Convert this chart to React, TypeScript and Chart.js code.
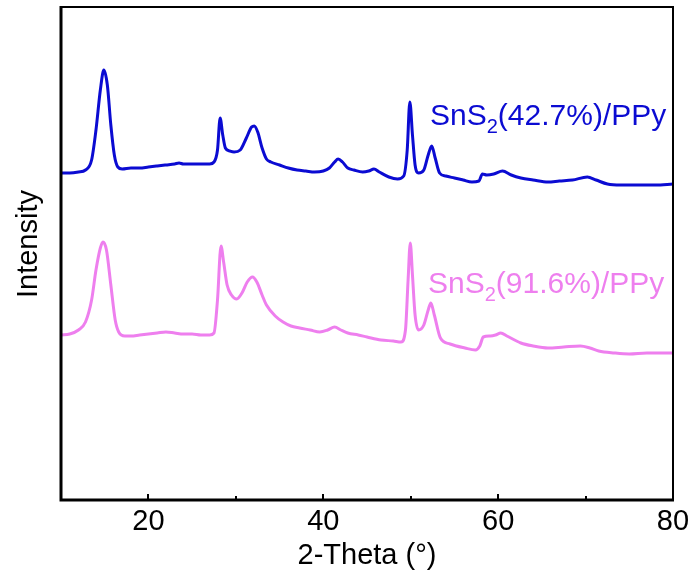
import React, { useEffect, useRef } from "react";
import { Chart, registerables } from "chart.js";

Chart.register(...registerables);

// 2-Theta positions and intensities (arbitrary units, stacked offsets included)
const blueTheta = [10, 11, 12, 12.8, 13.5, 14.0, 14.5, 14.9, 15.3, 15.7, 16.1, 16.5, 17, 18, 19, 20, 21, 22, 23, 23.5, 24, 25, 26, 27, 27.5, 27.9, 28.2, 28.5, 28.8, 29.3, 29.8, 30.5, 31.2, 31.8, 32.1, 32.5, 33, 33.5, 34, 35, 36, 37, 38, 39, 40, 40.7, 41.3, 41.7, 42.2, 42.8, 43.5, 44.5, 45.2, 45.8, 46.4, 47.5, 48.5, 49.2, 49.6, 49.9, 50.2, 50.5, 50.9, 51.5, 52.0, 52.4, 52.8, 53.3, 54, 55, 56, 57, 57.8, 58.2, 58.7, 59.5, 60.5, 61.5, 62.6, 64, 65.7, 67, 68.5, 70.2, 71.2, 72.5, 74, 76, 78, 80];
const blueIntensity = [327, 327, 328, 330, 340, 370, 410, 430, 415, 375, 345, 333, 331, 332, 332, 333, 334, 335, 336, 337, 336, 336, 336, 336, 338, 350, 382, 365, 352, 349, 348, 350, 362, 373, 374, 368, 352, 341, 338, 335, 332, 330, 329, 328, 329, 332, 338, 341, 338, 332, 330, 328, 329, 331, 328, 323, 321, 324, 350, 398, 365, 335, 327, 330, 345, 354, 342, 327, 324, 322, 320, 318, 319, 326, 325, 326, 329, 325, 322, 320, 318, 319, 320, 323, 320, 316, 315, 315, 315, 316];

const pinkTheta = [10, 11, 12, 12.8, 13.5, 14.0, 14.5, 14.8, 15.2, 15.7, 16.2, 16.6, 17.3, 18, 19, 20, 21, 22, 23, 24, 25, 26, 27, 27.5, 27.9, 28.3, 28.6, 29.0, 29.5, 30.1, 30.7, 31.3, 31.9, 32.4, 33, 33.5, 34.5, 35.4, 36.3, 37.3, 38.5, 39.6, 40.5, 41.3, 42, 42.8, 44, 45, 46.6, 48, 48.9, 49.4, 49.7, 49.95, 50.2, 50.5, 50.9, 51.5, 52.0, 52.3, 52.7, 53.4, 54.5, 56.2, 57.4, 57.9, 58.3, 59.1, 59.7, 60.3, 61, 62.6, 64, 65.7, 67.5, 69.4, 70.5, 71.5, 73.3, 75, 77, 80];
const pinkIntensity = [165, 166, 170, 178, 200, 230, 252, 258, 250, 215, 180, 168, 164, 164, 165, 166, 167, 168, 167, 166, 166, 165, 165, 167, 200, 254, 238, 215, 205, 201, 207, 218, 223, 218, 205, 195, 184, 178, 174, 172, 170, 168, 170, 173, 170, 167, 165, 163, 160, 159, 158, 170, 220, 257, 225, 185, 170, 175, 190, 197, 185, 162, 156, 152, 150, 154, 163, 164, 165, 167, 164, 157, 154, 152, 153, 154, 152, 149, 147, 146, 147, 147];

const xTicks = [10, 20, 30, 40, 50, 60, 70, 80];
const seriesNames = ["SnS₂(42.7%)/PPy", "SnS₂(91.6%)/PPy"];
const seriesLabelParts = [
  ["SnS", "2", "(42.7%)/PPy"],
  ["SnS", "2", "(91.6%)/PPy"],
];
const seriesColors = ["#0b0bd2", "#ee7fee"];

const FONT = "'Liberation Sans', Arial, sans-serif";

const decorPlugin = {
  id: "decor",
  afterDraw(chart: any) {
    const { ctx, chartArea } = chart;
    const { left, right, top, bottom } = chartArea;
    const xs = chart.scales.x;
    ctx.save();
    ctx.strokeStyle = "#000";
    ctx.lineCap = "butt";
    // frame
    ctx.lineWidth = 2;
    ctx.beginPath();
    ctx.moveTo(left, top);
    ctx.lineTo(right, top);
    ctx.lineTo(right, bottom);
    ctx.stroke();
    ctx.lineWidth = 3;
    ctx.beginPath();
    ctx.moveTo(left, top - 1);
    ctx.lineTo(left, bottom);
    ctx.lineTo(right + 1, bottom);
    ctx.stroke();
    // inward ticks
    ctx.lineWidth = 2;
    for (const v of xTicks) {
      if (v === 10 || v === 80) continue;
      const px = Math.round(xs.getPixelForValue(v));
      const len = v % 20 === 0 ? 6 : 4;
      ctx.beginPath();
      ctx.moveTo(px, bottom);
      ctx.lineTo(px, bottom - len);
      ctx.stroke();
    }
    // y axis title
    ctx.fillStyle = "#000";
    ctx.font = `29px ${FONT}`;
    ctx.textAlign = "center";
    ctx.textBaseline = "alphabetic";
    ctx.translate(37, 244);
    ctx.rotate(-Math.PI / 2);
    ctx.fillText("Intensity", 0, 0);
    ctx.restore();

    // series labels with subscript
    const labelPos = [
      { x: 430, y: 125 },
      { x: 428, y: 293 },
    ];
    ctx.save();
    ctx.textAlign = "left";
    ctx.textBaseline = "alphabetic";
    seriesLabelParts.forEach((parts, i) => {
      let x = labelPos[i].x;
      const y = labelPos[i].y;
      ctx.fillStyle = seriesColors[i];
      ctx.font = `30px ${FONT}`;
      ctx.fillText(parts[0], x, y);
      x += ctx.measureText(parts[0]).width;
      ctx.font = `20px ${FONT}`;
      ctx.fillText(parts[1], x, y + 8);
      x += ctx.measureText(parts[1]).width;
      ctx.font = `30px ${FONT}`;
      ctx.fillText(parts[2], x, y);
    });
    ctx.restore();
  },
};

export default function App() {
  const ref = useRef<HTMLCanvasElement | null>(null);
  useEffect(() => {
    document.body.style.margin = "0";
    const canvas = ref.current;
    if (!canvas) return;
    const chart = new Chart(canvas, {
      type: "scatter",
      data: {
        datasets: [
          {
            label: seriesNames[0],
            data: blueTheta.map((t, i) => ({ x: t, y: blueIntensity[i] })),
            borderColor: seriesColors[0],
            backgroundColor: seriesColors[0],
            showLine: true,
            pointRadius: 0,
            borderWidth: 3,
            cubicInterpolationMode: "monotone",
          },
          {
            label: seriesNames[1],
            data: pinkTheta.map((t, i) => ({ x: t, y: pinkIntensity[i] })),
            borderColor: seriesColors[1],
            backgroundColor: seriesColors[1],
            showLine: true,
            pointRadius: 0,
            borderWidth: 3,
            cubicInterpolationMode: "monotone",
          },
        ],
      },
      options: {
        responsive: false,
        animation: false,
        devicePixelRatio: 1,
        layout: { padding: { top: 7, right: 23, left: 0, bottom: 0 } },
        plugins: {
          legend: { display: false },
          tooltip: { enabled: false },
        },
        scales: {
          x: {
            type: "linear",
            min: 10,
            max: 80,
            afterBuildTicks: (scale: any) => {
              scale.ticks = xTicks.map((v) => ({ value: v }));
            },
            afterFit: (scale: any) => {
              scale.height = 85;
            },
            ticks: {
              autoSkip: false,
              maxRotation: 0,
              padding: -3,
              color: "#000",
              font: { size: 29, family: FONT },
              callback: (v: any) => (Number(v) % 20 === 0 ? String(v) : ""),
            },
            grid: { display: false },
            border: { display: false },
            title: {
              display: true,
              text: "2-Theta (°)",
              color: "#000",
              font: { size: 29, family: FONT },
              padding: { top: 0, bottom: 12 },
            },
          },
          y: {
            type: "linear",
            min: 0,
            max: 493,
            afterFit: (scale: any) => {
              scale.width = 61;
            },
            ticks: { display: false },
            grid: { display: false },
            border: { display: false },
            title: { display: false },
          },
        },
      },
      plugins: [decorPlugin],
    } as any);
    return () => chart.destroy();
  }, []);
  return (
    <div style={{ width: 696, height: 585 }}>
      <canvas ref={ref} width={696} height={585} style={{ display: "block" }} />
    </div>
  );
}
